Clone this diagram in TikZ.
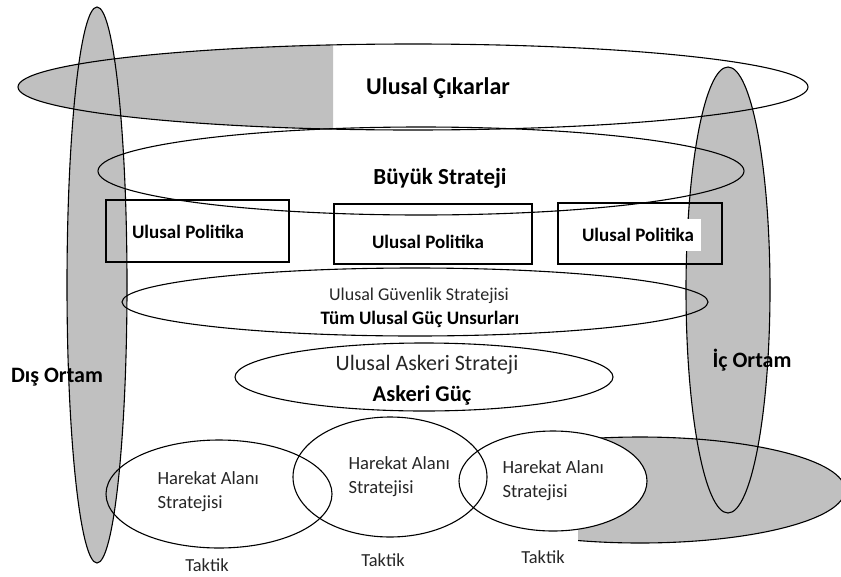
\documentclass[tikz,border=0pt]{standalone}
\usepackage{fontspec}
\setmainfont{Carlito}
\usepackage{tikz}

\definecolor{ortam}{RGB}{192,192,192}

\begin{document}
\begin{tikzpicture}[x=1pt, y=-1pt, line width=1.1pt,
    kalin/.style={font=\bfseries\fontsize{#1}{#1}\selectfont, inner sep=0pt},
    ince/.style={font=\fontsize{#1}{#1}\selectfont, inner sep=0pt},
    harekat/.style={font=\fontsize{18.6}{24}\selectfont, align=left, anchor=west, inner sep=0pt, text=black!85}]
    \useasboundingbox (0,0) rectangle (841,576);

    % gri alanlar
    \begin{scope}
        \clip (0,0) rectangle (333,576);
        \fill[ortam] (413,87) ellipse (395 and 43);
    \end{scope}
    \fill[ortam] (97,285) ellipse (30 and 278);
    \fill[ortam] (728,290) ellipse (42 and 223);
    \begin{scope}
        \clip (578,0) rectangle (841,576);
        \fill[ortam] (640,490) ellipse (205 and 53);
        \draw (640,490) ellipse (205 and 53);
    \end{scope}
    \fill[white] (553,481) ellipse (94 and 50);

    % halkalar
    \draw (413,87) ellipse (395 and 43);
    \draw (97,285) ellipse (30 and 278);
    \draw (728,290) ellipse (42 and 223);
    \draw (421,171) ellipse (323 and 44);
    \draw (415,302) ellipse (293 and 34);
    \draw (424,377) ellipse (189 and 34);

    \draw (106,200) rectangle (289,262);
    \draw (334,204) rectangle (532,264);
    \draw (558,203) rectangle (722,264);

    \node[kalin=24] (cikar) at (438,88) {Ulusal Çıkarlar};
    \node[kalin=23] (buyuk) at (440,178) {Büyük Strateji};
    \node[kalin=19] (pol1) at (188,232) {Ulusal Politika};
    \node[kalin=19] (pol2) at (428,242) {Ulusal Politika};
    \node[kalin=19, fill=white, inner xsep=7pt, inner ysep=9pt] (pol3) at (638,235) {Ulusal Politika};

    \node[ince=18, text=black!85] (guvenlik) at (419,296) {Ulusal Güvenlik Stratejisi};
    \node[kalin=19] (unsur) at (420,319) {Tüm Ulusal Güç Unsurları};
    \node[ince=22, text=black!85] (askeri) at (427,365) {Ulusal Askeri Strateji};
    \node[kalin=22.5] (guc) at (422,395) {Askeri Güç};

    \node[kalin=22] (dis) at (57,377) {Dış Ortam};
    \node[kalin=22] (ic) at (752,360) {İç Ortam};

    \foreach \i/\ex/\ey/\rx/\ry/\tx/\ty/\kx/\ky in {1/219/494/113/54/157/492/207/565,
        2/390/477/97/60/348/477/383/560, 3/553/481/94/50/502/481/543/557} {
        \draw (\ex,\ey) ellipse [x radius=\rx, y radius=\ry];
        \node[harekat] (alan\i) at (\tx,\ty) {Harekat Alanı\\Stratejisi};
        \node[ince=18.4, text=black!85] (taktik\i) at (\kx,\ky) {Taktik};
    }
\end{tikzpicture}
\end{document}
